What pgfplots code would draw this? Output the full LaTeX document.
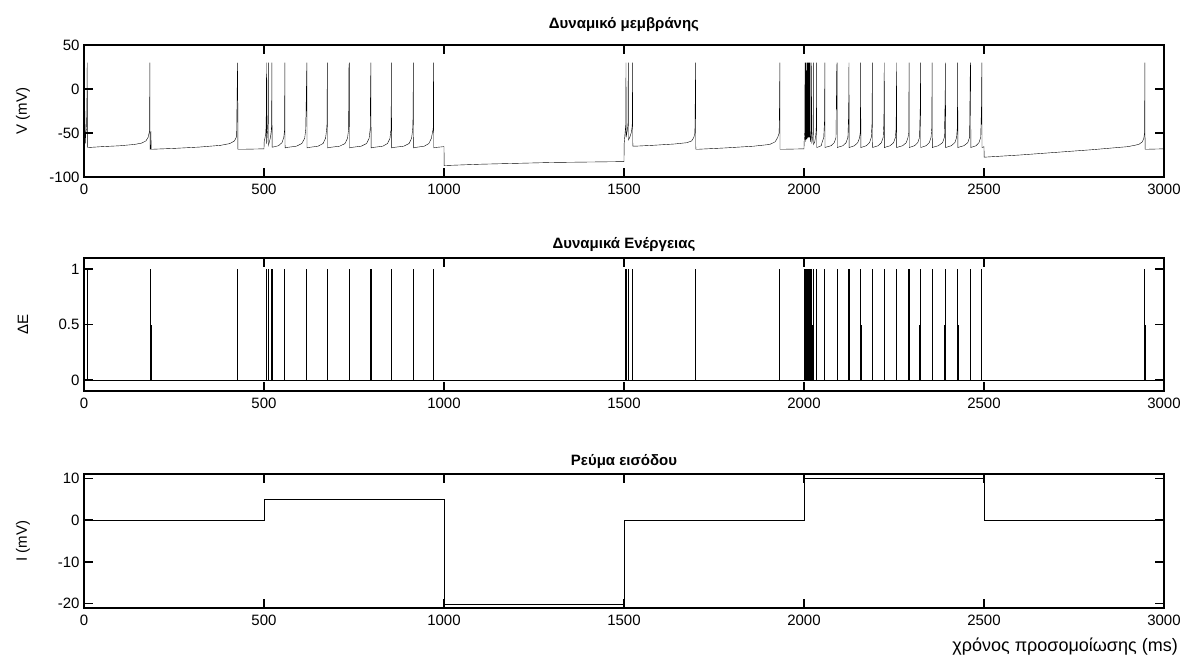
\documentclass[border=0pt]{standalone}
\usepackage{fontspec}
\setmainfont{Liberation Sans}
\usepackage{pgfplots}
\pgfplotsset{compat=1.18}

\pgfplotsset{
  mlax/.style={
    scale only axis, width=1080pt, anchor=north west,
    xmin=0, xmax=3000,
    xtick={0,500,1000,1500,2000,2500,3000},
    tick align=inside, tick pos=both,
    major tick length=9pt,
    /pgf/number format/assume math mode=true,
    /pgf/number format/1000 sep={},
    tick label style={font=\fontsize{15}{18}\selectfont, black},
    xticklabel style={yshift=-3pt},
    yticklabel style={xshift=-1pt},
    axis line style={black, line width=1.2pt},
    every tick/.style={black, line width=1.2pt},
    cycle list={{black, mark=none, line width=1.2pt, line join=miter}},
    title style={font=\bfseries\fontsize{15}{18}\selectfont, at={(axis description cs:0.5,1)}, anchor=base},
    ylabel style={font=\fontsize{15}{18}\selectfont, at={(axis description cs:0,0.5)}, anchor=center, yshift=61pt},
  }
}

\begin{document}
\begin{tikzpicture}
\path[use as bounding box] (0,0) rectangle (1185pt,-660pt);

% ---------------- Membrane potential ----------------
\begin{axis}[mlax, at={(84pt,-45pt)}, height=132pt,
  ymin=-100, ymax=50, ytick={-100,-50,0,50},
  title style={yshift=10pt},
  title={Δυναμικό μεμβράνης}, ylabel={V (mV)}]
\addplot table[x=t, y=v] {
t v
0 -63
0.5 -17
1.5 -60
2.5 -25
3.5 -62
5 -50
7 -45
8 -20
9 30
9.5 -66
12 -66.5
50 -65.5
100 -64.5
140 -63
160 -61.5
172 -59
178 -55
182 -48
183 30
183.5 -68.5
185.5 -68
186 -48
186.5 -68.5
188 -68.5
250 -67.5
320 -66
380 -64
405 -62
418 -59
424 -54
426 17
427 30
427.5 -68.5
440 -68.5
500 -68
500.5 -60
503 -55
505 -50
506 -40
507 30
507.5 -62
509 -52
510 -45
511 -30
512 30
512.5 -64
515 -60
518 -55
520 -48
521 -42
522 30
522.5 -66
525 -66
540 -64.5
550 -61
555 -55
557 -47
558 30
558.5 -67
562 -66.5
590 -65
605 -62
613 -56
616 -46
618 5
619 30
619.5 -67
623 -66.5
650 -65
664 -62
671 -56
674 -46
675 -40
676 30
676.5 -67
680 -66.5
710 -65
725 -62
732 -56
735 -46
736 25
737 30
737.5 -67
741 -66.5
770 -65
785 -62
792 -56
795 -46
796 5
797 30
797.5 -67
801 -66.5
830 -65
843 -62
850 -56
852 -48
853 -47
854 30
854.5 -67
858 -66.5
888 -65
903 -62
910 -56
913 -46
914 -32
915 30
915.5 -67
919 -66.5
945 -65
958 -62
965 -56
969 -47
970 -46
971 30
971.5 -67
975 -66.5
1000 -65.5
1000.5 -87
1100 -85.5
1200 -84.5
1300 -83.5
1400 -83
1500 -82.5
1500.5 -62
1502 -55
1504 -45
1505 -40
1505.6 30
1506 -55
1508 -50
1510 -45
1511 -40
1512 30
1512.5 -58
1516 -55
1520 -50
1522 -45
1523 -39
1524 30
1524.5 -65
1530 -65
1580 -64
1640 -62.5
1675 -61
1688 -59
1694 -55
1697 -50
1699 30
1699.5 -68.5
1705 -68.5
1780 -67
1860 -65
1905 -63
1920 -60
1927 -55
1931 -50
1932 -17
1933 30
1933.5 -68.5
1940 -68.5
2000 -68
2000.5 -60
2002 -50
2003 30
2003.5 -60
2004.5 -45
2005 30
2005.5 -58
2006.5 -45
2007 30
2007.5 -57
2008.5 -45
2009 30
2009.5 -56
2010.5 -45
2011 30
2011.5 -55
2012.5 -45
2013 30
2013.5 -55
2014.5 -42
2015 30
2015.5 -55
2016.5 -40
2017 30
2017.5 -60
2019 -56
2020.5 -45
2021 30
2021.5 -62
2024 -56
2025.5 -45
2026 30
2026.5 -63
2030 -60
2033 -52
2034.5 -40
2035 30
2035.5 -66.5
2039 -66
2048 -64.5
2050 -61
2055 -55
2057 -36
2058 30
2058.5 -66.5
2062 -66
2075 -64.5
2084 -61
2089 -55
2091 25
2092 30
2092.5 -66.5
2096 -66
2108 -64.5
2117 -61
2122 -55
2124 -28
2125 30
2125.5 -66.5
2129 -66
2140 -64.5
2149.5 -61
2154.5 -55
2156.5 -49
2157.5 30
2158 -66.5
2162 -66
2173 -64.5
2182 -61
2187 -55
2189 -39
2190 30
2190.5 -66.5
2194 -66
2206 -64.5
2215 -61
2220 -55
2222 -38
2223 30
2223.5 -66.5
2227 -66
2239 -64.5
2249 -61
2254 -55
2256 -44
2257 30
2257.5 -66.5
2261 -66
2274 -64.5
2284 -61
2289 -55
2291 -50
2292 30
2292.5 -66.5
2296 -66
2307 -64.5
2316 -61
2321 -55
2323 -20
2324 30
2324.5 -66.5
2328 -66
2339 -64.5
2348 -61
2353 -55
2355 -44
2356 30
2356.5 -66.5
2360 -66
2373 -64.5
2385 -61
2390 -55
2392 -14
2393 30
2393.5 -66.5
2397 -66
2409 -64.5
2419 -61
2424 -55
2426 -43
2427 30
2427.5 -66.5
2431 -66
2444 -64.5
2455 -61
2460 -55
2462 25
2463 30
2463.5 -66.5
2467 -66
2478 -64.5
2486 -61
2491 -55
2493 -20
2494 30
2494.5 -66.5
2498 -66
2500 -65.5
2500.5 -77.5
2600 -75
2700 -72
2800 -69
2900 -65.5
2930 -63
2940 -60
2944 -56
2946 -50
2947 30
2947.5 -68.5
2950 -68.5
2999 -68
3000 -33
};
\end{axis}

% ---------------- Energy ----------------
\begin{axis}[mlax, at={(84pt,-258pt)}, height=133pt,
  ymin=-0.1, ymax=1.1, ytick={0,0.5,1}, yticklabels={0,0.5,1},
  title style={yshift=4pt},
  title={Δυναμικά Ενέργειας}, ylabel={ΔE}]
\addplot coordinates {(0,0) (3000,0)};
\addplot[black, line width=1.2pt, ycomb] table[x=t, y=e] {
t e
9 1
184 1
186 0.5
427 1
507 1
512 1
522 1
558 1
619 1
617.5 0.5
676 1
737 1
797 1
795.5 0.5
854 1
915 1
971 1
1505.6 1
1512 1
1524 1
1699 1
1933 1
2003 1
2005 1
2007 1
2009 1
2011 1
2013 1
2015 1
2017 1
2021 1
2022.5 0.5
2026 1
2035 1
2058 1
2092 1
2125 1
2157.5 1
2159 0.5
2190 1
2223 1
2257 1
2292 1
2324 1
2322.5 0.5
2356 1
2393 1
2391.5 0.5
2427 1
2428.5 0.5
2463 1
2494 1
2947 1
2948.5 0.5
};
\end{axis}

% ---------------- Input current ----------------
\begin{axis}[mlax, at={(84pt,-474pt)}, height=134pt,
  ymin=-21, ymax=11, ytick={-20,-10,0,10},
  title style={yshift=3pt},
  title={Ρεύμα εισόδου}, ylabel={I (mV)},
  xlabel={χρόνος προσομοίωσης (ms)},
  xlabel style={font=\fontsize{18}{21}\selectfont, at={(axis description cs:1,0)}, anchor=east, inner sep=0pt, xshift=14pt, yshift=-39pt}]
\addplot coordinates {(0,0) (500,0) (500,5) (1000,5) (1000,-20) (1500,-20) (1500,0) (2000,0) (2000,10) (2500,10) (2500,0) (3000,0)};
\end{axis}
\end{tikzpicture}
\end{document}
